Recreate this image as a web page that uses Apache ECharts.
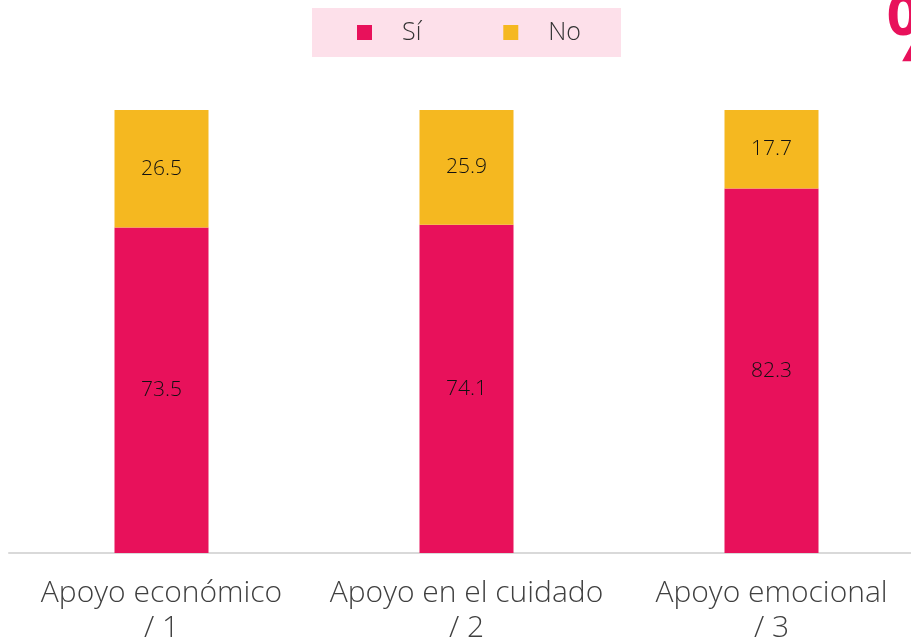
<!DOCTYPE html>
<html>
<head>
<meta charset="utf-8">
<script src="https://cdn.jsdelivr.net/npm/echarts@6/dist/echarts.min.js"></script>
<style>
    html, body { margin: 0; padding: 0; background: #fff; }
    #chart { width: 911px; height: 640px; }
</style>
</head>
<body>
<div id="chart"></div>
<script>
// data
let categories = ["Apoyo económico\n/ 1", "Apoyo en el cuidado\n/ 2", "Apoyo emocional\n/ 3"];
let si_vals = [73.5, 74.1, 82.3];
let no_vals = [26.5, 25.9, 17.7];

const font = "Open Sans";
const pink = "#e8115b";
const yellow = "#f5b820";

let chart = echarts.init(document.getElementById("chart"));

let label_opt = {
    show: true,
    position: "inside",
    color: "#111",
    fontSize: 21,
    fontWeight: 300,
    fontFamily: font,
    formatter: p => p.value.toFixed(1)
};

let opt = {
    animation: false,
    title: {
        text: "%",
        left: 880,
        top: -16,
        textStyle: { color: pink, fontSize: 92, fontWeight: 600, fontFamily: font }
    },
    legend: {
        left: 312,
        top: 8,
        width: 309,
        padding: [12, 40, 12, 45],
        backgroundColor: "#fde0ea",
        itemWidth: 15,
        itemHeight: 15,
        itemGap: 82,
        icon: "rect",
        textStyle: { color: "#333", fontSize: 25, fontWeight: 300, fontFamily: font, padding: [0, 0, 0, 25] },
        data: ["Sí", "No"]
    },
    grid: { left: 9, top: 110, width: 915, height: 443, containLabel: false, outerBoundsMode: "none" },
    xAxis: {
        type: "category",
        data: categories,
        axisLine: { lineStyle: { color: "#d9d9d9", width: 2 } },
        axisTick: { show: false },
        axisLabel: { color: "#404040", fontSize: 30, fontWeight: 300, fontFamily: font, lineHeight: 35, margin: 23, interval: 0 }
    },
    yAxis: {
        type: "value",
        min: 0,
        max: 100,
        show: false,
        splitLine: { show: false }
    },
    series: [
        {
            name: "Sí",
            type: "bar",
            stack: "total",
            barWidth: 94,
            itemStyle: { color: pink },
            label: label_opt,
            data: si_vals
        },
        {
            name: "No",
            type: "bar",
            stack: "total",
            barWidth: 94,
            itemStyle: { color: yellow },
            label: label_opt,
            data: no_vals
        }
    ]
};

chart.setOption(opt);
</script>
</body>
</html>
